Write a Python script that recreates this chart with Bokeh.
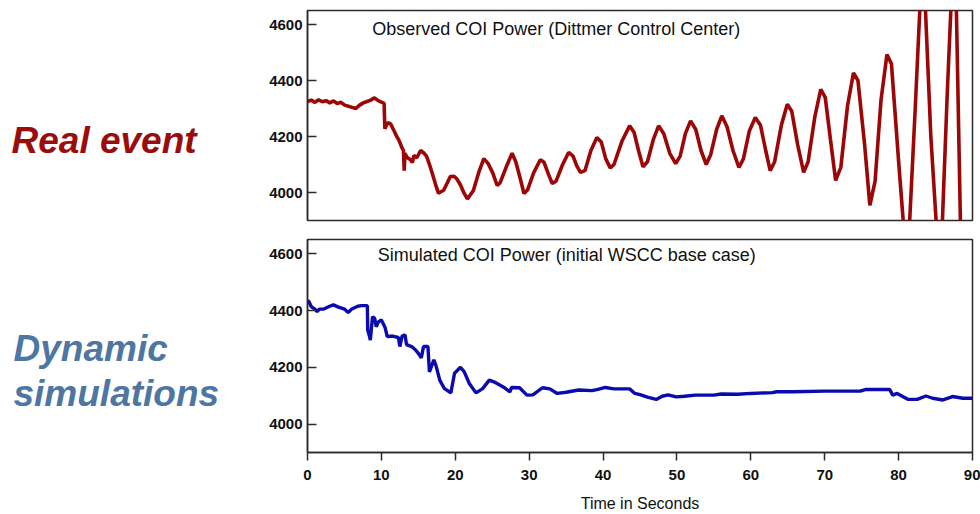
from bokeh.plotting import figure
from bokeh.layouts import row, column
from bokeh.models import Range1d, Label, FixedTicker
from bokeh.embed import file_html
from bokeh.resources import INLINE

# ---------------- data ----------------
obs_t = [0.0, 0.5, 1.0, 1.5, 2.0, 2.5, 3.0, 3.5, 4.0, 4.5, 5.0, 5.5, 6.0, 6.5, 7.0, 7.5,
         8.0, 8.5, 9.0, 9.5, 10.0, 10.3, 10.4, 10.8, 11.2, 11.6, 12.0, 12.3, 12.7, 12.9,
         13.0, 13.1, 13.4, 13.8, 14.1, 14.3, 14.7, 15.2, 15.6, 16.0, 16.4, 16.8, 17.2,
         17.6, 18.3, 18.8, 19.2, 19.7, 20.1, 20.6, 21.0, 21.5, 22.3, 23.0, 23.7, 24.3,
         24.9, 25.5, 25.9, 26.7, 27.5, 28.0, 28.6, 29.1, 29.6, 30.4, 31.3, 31.8, 32.4,
         32.9, 33.4, 34.3, 35.1, 35.7, 36.2, 36.7, 37.3, 38.1, 38.9, 39.5, 40.1, 40.7,
         41.2, 42.3, 43.3, 43.9, 44.5, 45.1, 45.7, 46.5, 47.2, 47.9, 48.7, 49.5, 50.1,
         50.8, 51.5, 52.2, 52.9, 53.6, 54.2, 55.0, 55.7, 56.4, 57.2, 58.0, 58.6, 59.4,
         60.2, 60.9, 61.6, 62.2, 62.8, 63.7, 64.5, 65.1, 65.9, 66.7, 67.3, 68.2, 69.0,
         69.6, 70.3, 71.0, 71.7, 72.6, 73.4, 74.0, 74.9, 75.6, 76.3, 77.1, 77.9, 78.5,
         79.5, 80.2, 80.9, 81.7, 82.4, 83.0, 83.8, 84.6, 85.3, 86.0, 86.6, 87.2, 87.8]
obs_mw = [4325, 4330, 4322, 4331, 4324, 4328, 4320, 4327, 4318, 4322, 4312, 4308, 4304, 4300,
          4312, 4320, 4325, 4330, 4338, 4328, 4322, 4318, 4228, 4250, 4244, 4222, 4200, 4186,
          4160, 4150, 4078, 4140, 4125, 4118, 4107, 4132, 4124, 4150, 4142, 4130, 4100, 4066,
          4030, 3998, 4008, 4035, 4057, 4058, 4048, 4025, 4000, 3977, 4007, 4070, 4121, 4103,
          4070, 4025, 4035, 4090, 4140, 4110, 4050, 3996, 4010, 4070, 4117, 4108, 4065, 4032,
          4040, 4100, 4143, 4130, 4095, 4072, 4078, 4150, 4196, 4180, 4120, 4088, 4100, 4185,
          4238, 4215, 4150, 4092, 4110, 4190, 4238, 4210, 4140, 4103, 4130, 4210, 4256, 4225,
          4150, 4100, 4135, 4225, 4274, 4235, 4150, 4090, 4120, 4220, 4268, 4240, 4150, 4078,
          4110, 4240, 4315, 4290, 4170, 4072, 4110, 4270, 4368, 4340, 4190, 4043, 4090, 4310,
          4427, 4400, 4170, 3954, 4040, 4330, 4493, 4460, 4100, 3860, 3870, 4300, 4700, 4700,
          4200, 3860, 3860, 4350, 4720, 4700, 3860]

sim_t = [0.0, 0.2, 0.5, 1.0, 1.3, 1.6, 2.2, 3.0, 3.5, 4.2, 5.0, 5.5, 6.0, 6.8, 7.3, 8.1,
         8.15, 8.4, 8.5, 8.8, 9.1, 9.3, 9.6, 10.0, 10.5, 10.8, 11.5, 12.3, 12.5, 12.8, 13.2,
         13.4, 14.1, 14.6, 15.0, 15.4, 15.7, 16.3, 16.5, 17.1, 17.4, 17.9, 18.5, 19.4, 19.9,
         20.7, 21.2, 21.9, 22.8, 23.7, 24.6, 25.3, 26.6, 27.4, 27.6, 28.7, 29.7, 30.5, 31.8,
         32.8, 33.8, 35.0, 36.7, 38.5, 39.3, 40.3, 41.5, 43.6, 44.3, 45.0, 46.0, 47.2, 48.0,
         48.8, 49.9, 51.0, 52.5, 55.0, 56.0, 58.2, 60.0, 62.9, 63.5, 65.7, 70.0, 74.8, 75.6,
         78.8, 79.2, 79.8, 81.3, 82.5, 83.7, 84.6, 86.0, 87.3, 88.7, 90.0]
sim_mw = [4435, 4431, 4414, 4405, 4396, 4405, 4405, 4415, 4420, 4412, 4405, 4393, 4405, 4415,
          4417, 4417, 4331, 4308, 4296, 4378, 4372, 4343, 4360, 4367, 4340, 4308, 4310, 4305,
          4273, 4310, 4314, 4280, 4273, 4262, 4249, 4233, 4273, 4273, 4184, 4226, 4205, 4155,
          4126, 4110, 4179, 4200, 4185, 4143, 4110, 4125, 4155, 4148, 4129, 4113, 4129, 4128,
          4102, 4103, 4128, 4124, 4108, 4112, 4120, 4118, 4122, 4129, 4124, 4124, 4108, 4104,
          4095, 4087, 4098, 4103, 4096, 4098, 4102, 4102, 4106, 4105, 4108, 4111, 4114, 4114,
          4116, 4116, 4122, 4122, 4102, 4108, 4087, 4087, 4099, 4091, 4085, 4097, 4091, 4091]

y_ticks = [4000, 4200, 4400, 4600]
x_ticks = [0, 10, 20, 30, 40, 50, 60, 70, 80, 90]
top_title = "Observed COI Power (Dittmer Control Center)"
bottom_title = "Simulated COI Power (initial WSCC base case)"
x_label = "Time in Seconds"
side_top = "Real event"
side_bottom = ["Dynamic", "simulations"]

RED = "#9c0606"
BLUE = "#0a0aae"
FONT = "Liberation Sans"
AX = "#2a2a2a"

# ---------------- side labels ----------------
side = figure(width=248, height=514, x_range=Range1d(0, 248), y_range=Range1d(514, 0),
              output_backend="svg", toolbar_location=None, min_border=0)
side.axis.visible = False
side.grid.visible = False
side.outline_line_color = None
side.add_layout(Label(x=11, y=140, text=side_top, text_font=FONT, text_font_style="bold italic",
                      text_font_size="37px", text_color="#9a0d0d", text_baseline="alphabetic"))
for txt, yy in zip(side_bottom, [348, 393]):
    side.add_layout(Label(x=13, y=yy, text=txt, text_font=FONT, text_font_style="bold italic",
                          text_font_size="37px", text_color="#4d76a3", text_baseline="alphabetic"))


def style(p):
    p.grid.visible = False
    p.outline_line_color = AX
    p.outline_line_width = 1.5
    p.background_fill_color = "white"
    p.border_fill_color = "white"
    ya = p.yaxis[0]
    ya.ticker = FixedTicker(ticks=y_ticks)
    ya.major_tick_in = 9
    ya.major_tick_out = 0
    ya.minor_tick_line_color = None
    ya.axis_line_color = AX
    ya.axis_line_width = 1.5
    ya.major_tick_line_color = AX
    ya.major_tick_line_width = 1.5
    ya.major_label_standoff = 5
    ya.major_label_text_font = FONT
    ya.major_label_text_font_style = "bold"
    ya.major_label_text_font_size = "15px"
    ya.major_label_text_color = "#111111"


# ---------------- top (observed) ----------------
top = figure(width=732, height=228, x_range=Range1d(0, 89.4), y_range=Range1d(3900, 4650),
             output_backend="svg", toolbar_location=None,
             min_border_left=59, min_border_right=8, min_border_top=10, min_border_bottom=8)
style(top)
top.xaxis.visible = False
top.line(obs_t, obs_mw, line_color=RED, line_width=3.6)
top.add_layout(Label(x=8.7, y=4583, text=top_title, text_font=FONT, text_font_size="18px",
                     text_color="#111111", text_baseline="middle"))

# ---------------- bottom (simulated) ----------------
bot = figure(width=732, height=286, x_range=Range1d(0, 90), y_range=Range1d(3900, 4650),
             output_backend="svg", toolbar_location=None,
             min_border_left=59, min_border_right=4, min_border_top=11, min_border_bottom=62)
style(bot)
xa = bot.xaxis[0]
xa.ticker = FixedTicker(ticks=x_ticks)
xa.major_tick_in = 0
xa.major_tick_out = 8
xa.minor_tick_line_color = None
xa.axis_line_color = AX
xa.axis_line_width = 1.5
xa.major_tick_line_color = AX
xa.major_tick_line_width = 1.5
xa.major_label_standoff = 9
xa.major_label_text_font = FONT
xa.major_label_text_font_style = "bold"
xa.major_label_text_font_size = "15px"
xa.major_label_text_color = "#111111"
xa.axis_label = x_label
xa.axis_label_text_font = FONT
xa.axis_label_text_font_style = "normal"
xa.axis_label_text_font_size = "16px"
xa.axis_label_text_color = "#111111"
xa.axis_label_standoff = 12
bot.line(sim_t, sim_mw, line_color=BLUE, line_width=3.4)
bot.add_layout(Label(x=9.5, y=4596, text=bottom_title, text_font=FONT, text_font_size="18px",
                     text_color="#111111", text_baseline="middle"))

layout = row(side, column(top, bot))
open("out.html", "w").write(file_html(layout, INLINE))
